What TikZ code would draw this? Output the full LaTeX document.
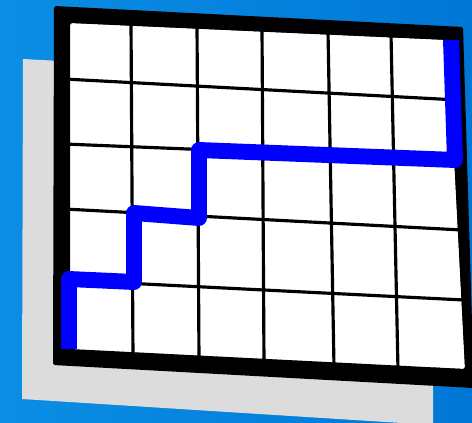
\documentclass[tikz,border=0pt]{standalone}
\usetikzlibrary{calc}
\definecolor{skyleft}{HTML}{0B8EE5}
\definecolor{skyright}{HTML}{0077D6}
\definecolor{shadowgray}{HTML}{DCDCDC}
\definecolor{routeblue}{HTML}{0000FF}
\tikzset{
  backdrop/.style={
    left color=skyleft,
    right color=skyright,
    draw=none
  },
  shadowcard/.style={
    fill=shadowgray,
    draw=none
  },
  board/.style={
    fill=white,
    draw=none
  },
  frame/.style={
    fill=black,
    even odd rule,
    rounded corners=1.5pt
  },
  gridline/.style={
    draw=black,
    line width=2.7pt
  },
  route/.style={
    draw=routeblue,
    line width=13.6pt,
    line join=round,
    line cap=butt
  }
}

\begin{document}
\begin{tikzpicture}[x=0.03cm, y=-0.03cm]
  \clip (0,0) rectangle (472,423);
  \fill[backdrop] (0,0) rectangle (472,423);

  % card lying behind the board
  \fill[shadowcard] (23,59) -- (22,399) -- (433,425) -- (433,300) -- (60,61) -- cycle;

  % board corners
  \coordinate (outer nw) at (54,6);
  \coordinate (outer ne) at (463,27);
  \coordinate (outer se) at (474,388);
  \coordinate (outer sw) at (53,365);
  \coordinate (inner nw) at (70,23);
  \coordinate (inner ne) at (448,40);
  \coordinate (inner se) at (465,369);
  \coordinate (inner sw) at (70,349);

  \fill[board] (inner nw) -- (inner ne) -- (inner se) -- (inner sw) -- cycle;

  % grid
  \foreach \ya/\yb/\xb in {79/100/458, 144/160/460, 209/230/462, 280/300/464}
    \draw[gridline] (64,\ya) -- (\xb,\yb);
  \foreach \xa/\ya/\xb/\yb in {131/22/133/357, 197/25/199/360, 262/28/264/363,
                               328/31/334/367, 391/34/398/370}
    \draw[gridline] (\xa,\ya) -- (\xb,\yb);

  \fill[frame] (outer nw) -- (outer ne) -- (outer se) -- (outer sw) -- cycle
    (inner nw) -- (inner ne) -- (inner se) -- (inner sw) -- cycle;

  % path through the grid
  \coordinate (start) at (69,349);
  \coordinate (step1) at (69,279);
  \coordinate (step2) at (134,282);
  \coordinate (step3) at (134,213);
  \coordinate (step4) at (199,218);
  \coordinate (step5) at (199,150);
  \coordinate (step6) at (455,160);
  \coordinate (goal) at (451,40);
  \draw[route] (start) -- (step1) -- (step2) -- (step3) -- (step4)
    -- (step5) -- (step6) -- (goal);
\end{tikzpicture}
\end{document}
